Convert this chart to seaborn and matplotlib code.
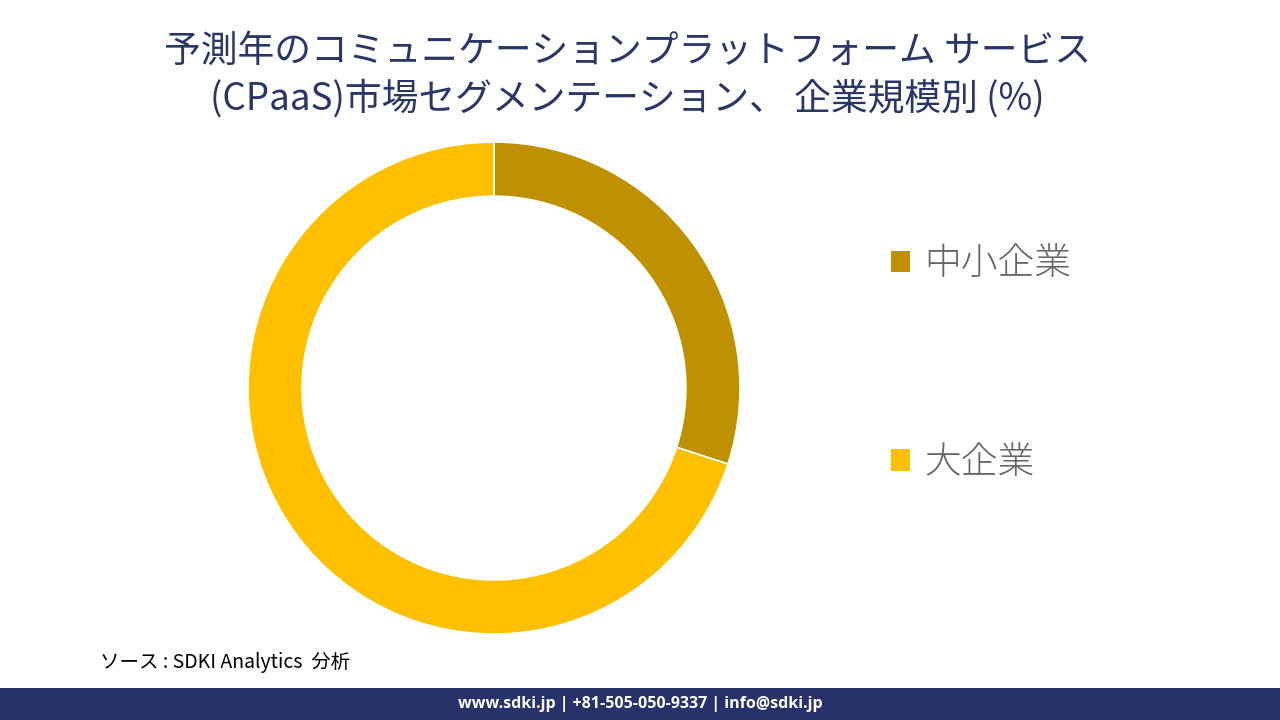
import matplotlib
matplotlib.use("Agg")
import matplotlib.pyplot as plt
import seaborn as sns
from matplotlib.patches import Patch, Rectangle

categories = ["中小企業", "大企業"]
values = [30, 70]
colors = ["#BF9000", "#FFC000"]
title_lines = ["予測年のコミュニケーションプラットフォーム サービス", "(CPaaS)市場セグメンテーション、 企業規模別 (%)"]
source_text = "ソース : SDKI Analytics  分析"
footer_text = "www.sdki.jp | +81-505-050-9337 | info@sdki.jp"

sns.set_theme(style="white")
plt.rcParams['font.family'] = ['Noto Sans CJK JP', 'DejaVu Sans']

fig = plt.figure(figsize=(12.8, 7.2), dpi=100)
fig.patch.set_facecolor("white")

ax = fig.add_axes([0.19375, 0.1194, 0.384375, 0.68333])
wedges, _ = ax.pie(values, colors=colors, startangle=90, counterclock=False,
                   radius=1.0, wedgeprops=dict(width=0.22, edgecolor="white", linewidth=1.2))
ax.set_xlim(-1, 1)
ax.set_ylim(-1, 1)
ax.set_aspect("equal")
ax.axis("off")

handles = [Patch(facecolor=c, edgecolor="none") for c in colors]
leg = fig.legend(handles, categories, loc="upper left", bbox_to_anchor=(0.696, 0.66),
                 frameon=False, fontsize=26.5, labelspacing=4.35, handlelength=0.52,
                 handleheight=0.52, handletextpad=0.38, borderpad=0, borderaxespad=0)
for t in leg.get_texts():
    t.set_color("#666666")
    t.set_fontweight("light")

fig.text(0.49, 0.928, title_lines[0], ha="center", va="center", fontsize=26.5, color="#2B3668")
fig.text(0.49, 0.862, title_lines[1], ha="center", va="center", fontsize=26.5, color="#2B3668")

fig.text(0.078, 0.08, source_text, ha="left", va="center", fontsize=14, style="italic", color="black")

fig.patches.append(Rectangle((0, 0), 1, 0.045, transform=fig.transFigure, facecolor="#263269",
                             edgecolor="none", zorder=0))
fig.text(0.5, 0.0225, footer_text, ha="center", va="center", fontsize=11.5, fontweight="bold",
         color="white", family=["Open Sans", "DejaVu Sans"])

fig.savefig("out.png", dpi=100, facecolor="white")
